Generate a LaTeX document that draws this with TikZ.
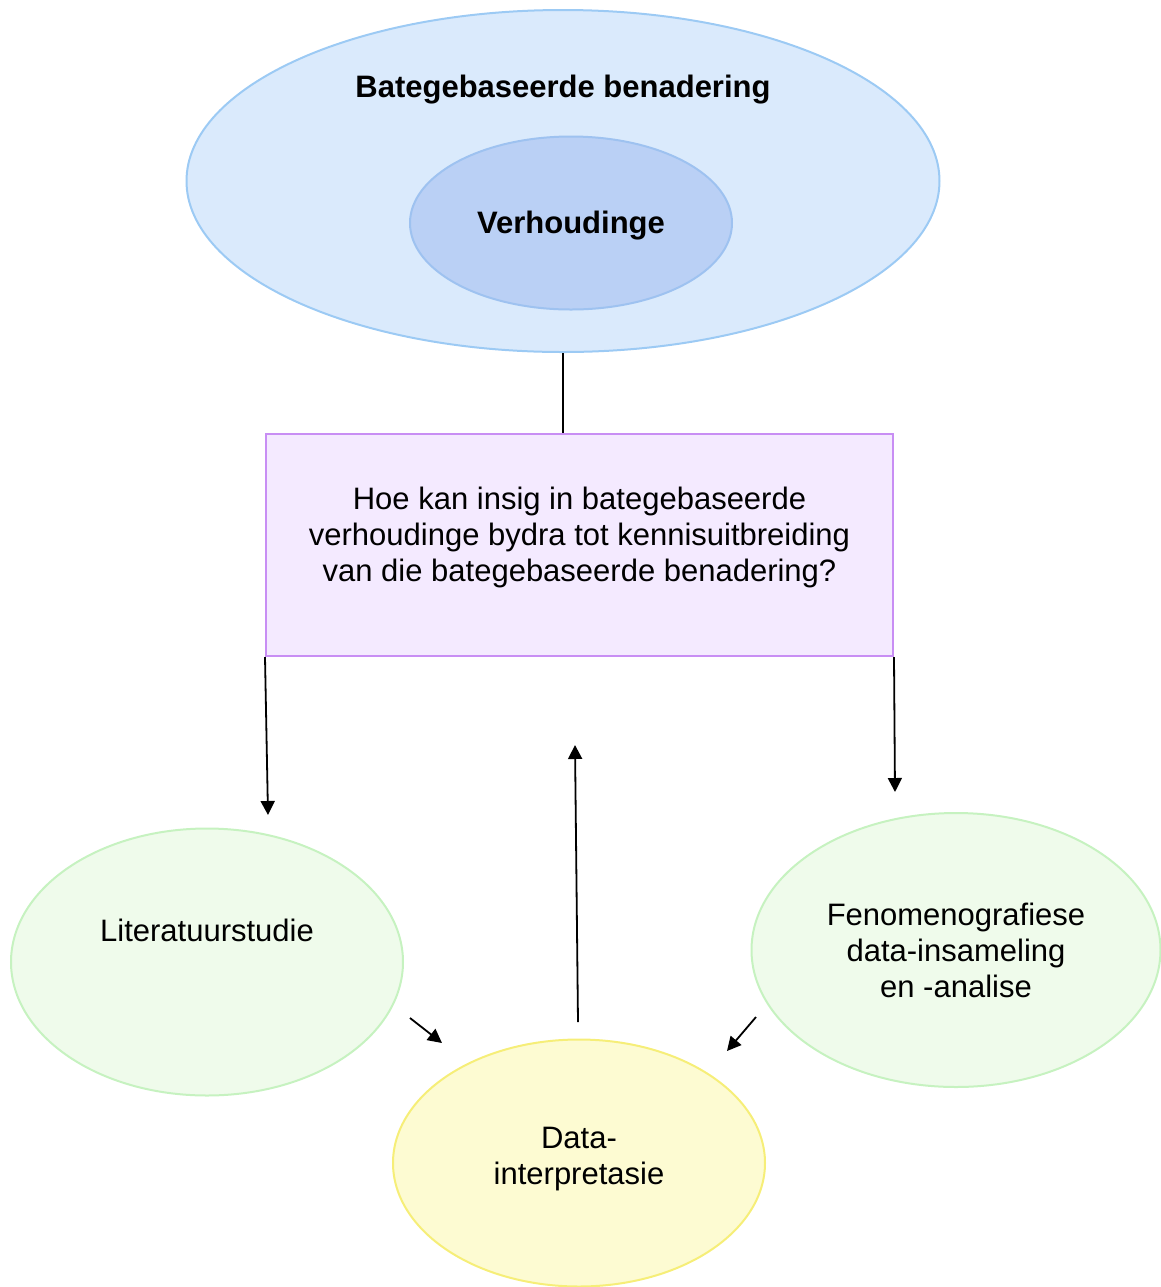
\documentclass[tikz,border=0pt]{standalone}
\usepackage{fontspec}
\setmainfont{Liberation Sans}
\usetikzlibrary{positioning}
\usetikzlibrary{shapes}
\usetikzlibrary{arrows.meta}
\definecolor{bateline}{RGB}{156,202,244}
\definecolor{batefill}{RGB}{218,234,252}
\definecolor{verhline}{RGB}{158,194,240}
\definecolor{verhfill}{RGB}{186,208,245}
\definecolor{vraagline}{RGB}{200,142,244}
\definecolor{vraagfill}{RGB}{244,234,255}
\definecolor{groenline}{RGB}{198,242,192}
\definecolor{groenfill}{RGB}{239,251,235}
\definecolor{geelline}{RGB}{246,238,120}
\definecolor{geelfill}{RGB}{253,251,210}
\tikzset{bubble/.style={draw, ellipse, line width=1pt, inner sep=0pt}}
\tikzset{connect/.style={draw, line width=0.9pt, -{Triangle[length=7pt,width=7pt]}}}
\tikzset{txt/.style={align=center, font=\fontsize{15.5}{18}\selectfont}}

\begin{document}
\begin{tikzpicture}[x=0.5pt,y=-0.5pt]
\useasboundingbox (0,0) rectangle (1161,1287);

%top ellipses
\node[bubble,draw=bateline,fill=batefill,minimum width=376.5pt,minimum height=171pt] (bate) at (563,181) {};
\node[txt,font=\fontsize{15.5}{18}\selectfont\bfseries] (batetitle) at ([yshift=-40.5pt]bate.north) {Bategebaseerde benadering};
\node[bubble,draw=verhline,fill=verhfill,minimum width=161pt,minimum height=86.5pt] (verh) at (571,223) {};
\node[txt,font=\fontsize{15.5}{18}\selectfont\bfseries] (verhtitle) at ([yshift=-1.5pt]verh) {Verhoudinge};

%question
\node[draw=vraagline,fill=vraagfill,line width=1pt,minimum width=313.5pt,minimum height=111pt] (vraag) at (579.5,545) {};
\node[txt] (vraagtext) at ([yshift=4pt]vraag) {Hoe kan insig in bategebaseerde\\verhoudinge bydra tot kennisuitbreiding\\van die bategebaseerde benadering?};
\path[draw, line width=0.9pt] (bate.south) -- (bate.south |- vraag.north);

%lower ellipses
\node[bubble,draw=groenline,fill=groenfill,minimum width=196pt,minimum height=133.5pt] (lit) at (207,962) {};
\node[txt] (littext) at ([yshift=16pt]lit) {Literatuurstudie};
\node[bubble,draw=groenline,fill=groenfill,minimum width=204.5pt,minimum height=137pt] (fenom) at (956,950) {};
\node[txt] (fenomtext) at (fenom) {Fenomenografiese\\data-insameling\\en -analise};
\node[bubble,draw=geelline,fill=geelfill,minimum width=186pt,minimum height=123.5pt] (data) at (579,1163) {};
\node[txt] (datatext) at ([yshift=2pt]data) {Data-\\interpretasie};

%arrow ends
\coordinate (litin) at (268,815);
\coordinate (fenomin) at (895,792);
\coordinate (terug) at (575,745);
\coordinate (dataout) at (578,1022);
\coordinate (litout) at (410,1018);
\coordinate (litend) at (442,1043);
\coordinate (fenomout) at (756,1017);
\coordinate (fenomend) at (727,1051);

\path[connect] (vraag.south west) -- (litin);
\path[connect] (vraag.south east) -- (fenomin);
\path[connect] (dataout) -- (terug);
\path[connect] (litout) -- (litend);
\path[connect] (fenomout) -- (fenomend);

\end{tikzpicture}
\end{document}
